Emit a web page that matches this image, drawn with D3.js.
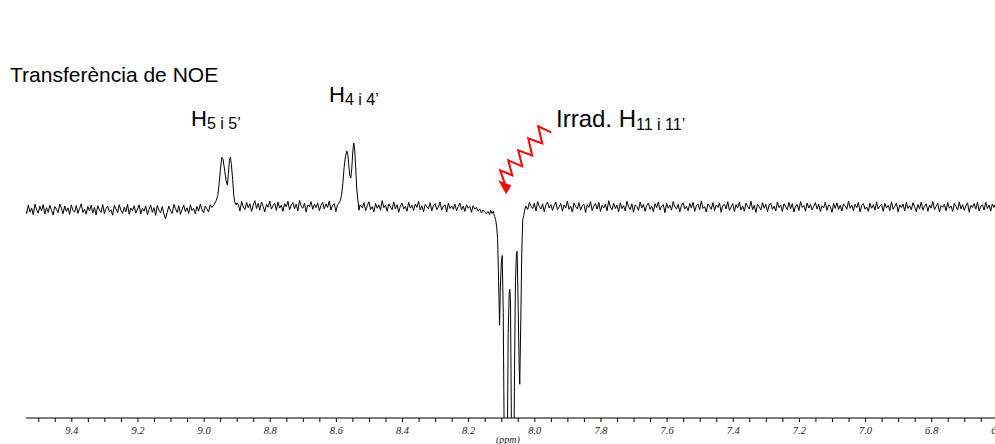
<!DOCTYPE html>
<html>
<head>
<meta charset="utf-8">
<script src="https://cdn.jsdelivr.net/npm/d3@7"></script>
<style>
  body { margin: 0; background: #fff; }
  svg { display: block; }
  .tick text { font-family: 'Liberation Serif', 'DejaVu Serif', serif; font-style: italic; font-size: 10.5px; fill: #222; }
</style>
</head>
<body>
<div id="chart"></div>
<script>
const Width = 995;
const Height = 444;

// spectrum baseline, sampled every 0.005 ppm starting at 9.54 ppm (intensity in % of scale)
const ppmStart = 9.54;
const ppmStep = 0.005;
const baseline = [
  -0.2, -3.1, 0.9, -2.4, -0.5, -3.6, 1.3, -1.2, -2.9, 0.4, -1.8, 1.1, -3.3, -0.3, -2.6, 0.8, -1.5, -3.8, 0.2, -1.0,
  -2.7, 1.4, -0.6, -3.2, 0.5, -2.1, -0.4, -3.5, 1.0, -1.7, -2.4, 0.7, -3.0, -0.8, 1.5, -2.6, -1.1, -3.4, 0.3, -1.9,
  0.9, -2.8, -0.2, -3.7, 0.6, -1.4, -2.5, 1.2, -3.1, -0.7, 0.4, -2.2, -1.3, -3.9, 0.8, -0.9, -2.7, 1.1, -1.6, -3.0,
  -0.1, -2.3, 1.3, -3.4, -0.5, -1.8, 0.6, -2.9, -1.0, 1.0, -3.2, -0.6, -2.0, 0.5, -3.6, -1.2, 0.9, -2.5, -0.3, -4.0,
  0.7, -1.5, -2.8, 0.2, -3.3, -5.5, -2.4, 0.4, -1.9, -3.0, 1.2, -0.8, -2.6, 0.6, -3.5, -1.1, 0.8, -2.2, -0.4, -3.1,
  1.0, -1.7, -0.6, -3.2, 0.3, -2.0, 1.4, -1.3, -2.8, 0.5, -0.9, -2.4, 1.1, -0.2, 0.8, 1.5, 0.4, -0.6, 1.2, 0.3,
  0.5, -1.0, 1.8, 0.2, -0.9, 1.4, -0.3, 2.0, 0.6, 1.1, -1.9, 2.6, 0.0, -1.2, 2.2, -0.4, 1.5, -2.1, 0.9, 3.0,
  -0.7, 1.7, -1.5, 2.4, 0.3, -2.3, 1.2, -0.1, 2.8, -1.0, 0.6, 1.9, -1.6, 2.3, -0.5, 0.8, -2.0, 1.6, 0.1, 2.7,
  -1.3, 0.9, 2.1, -0.8, 1.4, -1.8, 3.1, 0.4, -0.6, 1.8, -2.4, 1.0, 0.2, 2.5, -1.1, 1.3, -0.3, 2.0, -1.7, 0.7,
  2.2, -0.9, 1.5, -0.2, 2.9, -1.4, 0.8, 1.6, -2.2, 1.1, 0.5, 1.0, 2.0, 0.3, -0.8, 1.4, 0.6, -0.5, 1.1, 0.0,
  0.4, -0.9, -2.6, 1.3, -0.4, 2.1, -1.7, 0.6, 2.5, -1.2, 0.2, -2.3, 1.7, -0.6, 1.0, -1.5, 3.0, -0.3, 0.8, -2.0,
  1.5, 0.0, -1.3, 2.4, -0.9, 1.1, -2.5, 0.5, 1.9, -1.0, 0.3, -2.0, 2.2, -0.5, 0.9, -1.6, 1.4, -0.2, 2.6, -1.4,
  0.6, -2.2, 1.2, 0.1, -0.8, 2.0, -1.9, 0.7, 1.6, -1.2, -0.1, 2.3, -1.5, 0.4, 1.0, -2.4, 1.8, -0.7, 0.5, -1.1,
  1.3, -1.8, 0.2, 1.9, -1.3, 0.4, -2.1, 1.1, -0.6, 0.3, -2.5, 0.6, -1.0, -0.2, -2.0, -0.9, -2.8, -1.4, -2.3, -3.2,
  -2.1, -3.6, -2.4, -3.0, -4.2, -2.8, -1.0, -1.5, -0.8, -1.2, -0.5, -1.0, -0.7, -0.3, -0.9, -0.4, -0.6, -0.2, -0.5, -0.1,
  0.1, -0.3, 0.2, 0.8, -1.2, 2.1, 0.4, -0.7, 1.8, -1.9, 2.6, 0.3, -1.0, 1.5, -2.2, 0.9, 2.3, -0.5, 1.2, -1.6,
  0.6, 2.4, -1.3, 0.1, 1.7, -2.0, 1.0, -0.4, 2.8, -1.1, 0.5, -2.4, 1.9, 0.2, -0.9, 2.1, -1.5, 0.7, 1.3, -2.6,
  1.1, -0.2, 2.5, -1.7, 0.4, 1.6, -1.0, 2.2, -2.1, 0.8, -0.5, 1.4, -1.8, 3.0, 0.0, -1.3, 1.8, -0.7, 0.9, -2.3,
  2.0, -0.8, 0.6, -1.9, 2.7, 0.3, -1.2, 1.5, -2.5, 1.0, 0.2, -1.6, 2.3, -0.4, 1.2, -2.0, 0.7, 1.9, -1.1, 0.4,
  -2.2, 1.6, -0.3, 2.4, -1.4, 0.5, 1.1, -2.7, 1.8, -0.6, 0.9, -1.5, 2.6, 0.1, -1.0, 1.3, -2.3, 0.8, 2.0, -0.9,
  0.3, -1.8, 1.7, -0.5, 2.2, -2.1, 0.6, 1.4, -1.3, 2.9, -0.7, 0.2, -2.4, 1.5, 0.4, -1.1, 2.1, -1.7, 1.0, -0.2,
  1.9, -2.5, 0.7, 1.2, -0.9, 2.5, -1.6, 0.0, 1.6, -2.2, 1.1, -0.4, 2.3, -1.4, 0.5, -2.0, 1.8, 0.3, -1.0, 2.7,
  -1.2, 0.8, -2.6, 1.4, 0.2, -1.5, 2.0, -0.6, 1.3, -2.3, 0.9, 1.7, -1.1, 0.4, -1.9, 2.4, -0.3, 1.0, -2.1, 1.5,
  0.1, -1.3, 2.2, -0.8, 1.6, -2.4, 0.5, 1.1, -1.7, 2.6, -0.2, 0.7, -2.0, 1.9, -0.5, 1.2, -1.4, 0.3, 2.1, -1.0,
  1.4, -2.2, 0.6, -0.4, 2.3, -1.6, 1.0, 0.2, -2.5, 1.7, -0.7, 2.0, -1.2, 0.8, -1.9, 1.5, 0.4, -1.1, 2.8, -0.6,
  0.9, -1.8, 1.3, -0.3, 2.1, -2.3, 0.7, 1.6, -1.0, 0.0, -2.1, 1.8, -0.6, 1.1, -1.5, 2.4, -0.9, 0.5, 1.2, -2.0,
  1.7, -0.4, 0.8, -1.7, 2.5, -1.1, 0.3, 1.9, -2.4, 1.0, -0.2, 1.4, -1.9, 2.2, -0.7, 0.6, -1.3, 2.0, 0.1, -2.2,
  1.2, -0.8, 2.3, -1.5, 0.4, 1.5, -2.0, 0.9, -0.5, 2.6, -1.2, 0.2, 1.8, -2.3, 0.7, -0.1, 1.3, -1.8, 2.1, -0.6,
  0.5, -2.1, 1.6, 0.3, -1.4, 2.4, -0.9, 1.1, -1.6, 0.6, 2.0, -2.5, 0.8, -0.3, 1.7, -1.0, 2.2, -1.9, 0.4, 1.0,
  -1.5, 2.3, -0.7, 0.9, -2.0, 1.4, -0.2, 1.8, -1.1
];

// signals [ppm, intensity]
const h5Signal = [
  [8.968, 1.2], [8.962, 3.0], [8.957, 5.5], [8.953, 11], [8.949, 18], [8.945, 23.5],
  [8.941, 22.5], [8.936, 17], [8.932, 12.5], [8.928, 10.4], [8.925, 16], [8.922, 22],
  [8.919, 23.7], [8.916, 20], [8.912, 13], [8.909, 6], [8.906, 2.5], [8.902, 1.0], [8.899, 2.0]
];
const h4Signal = [
  [8.592, 1.5], [8.587, 3.0], [8.583, 5.5], [8.579, 11], [8.575, 19], [8.571, 24],
  [8.567, 26.5], [8.564, 25], [8.561, 20], [8.558, 15], [8.555, 13.7], [8.552, 18],
  [8.549, 26], [8.546, 30.3], [8.543, 27], [8.540, 18], [8.537, 9], [8.534, 4],
  [8.530, -1.5], [8.527, 1.0]
];
const h11Signal = [
  [8.132, -1.5], [8.128, -3.0], [8.124, -2.0], [8.120, -4.5], [8.117, -6.0], [8.114, -9.0],
  [8.111, -15], [8.108, -35], [8.105, -56], [8.103, -40], [8.100, -27], [8.097, -23],
  [8.094, -50], [8.091, -110], [8.088, -160], [8.085, -170], [8.082, -120], [8.079, -60],
  [8.076, -41], [8.074, -39], [8.072, -45], [8.069, -110], [8.066, -160], [8.063, -150],
  [8.060, -80], [8.057, -35], [8.054, -22], [8.052, -21], [8.049, -45], [8.046, -75],
  [8.044, -84], [8.041, -55], [8.038, -22], [8.035, -6], [8.032, -4], [8.029, -1.5], [8.026, 0.5]
];

const tickLabels = [9.4, 9.2, 9.0, 8.8, 8.6, 8.4, 8.2, 8.0, 7.8, 7.6, 7.4, 7.2, 7.0, 6.8, 6.6];

const svg = d3.select('#chart').
append('svg').
attr('width', Width).
attr('height', Height);

const x = d3.scaleLinear().
domain([9.537, 6.607]).
range([26, 995]);

const y = d3.scaleLinear().
domain([-100, 100]).
range([418, -4]);

// merge baseline with the signals (signals replace baseline where they lie)
const signals = [h5Signal, h4Signal, h11Signal];
const ranges = signals.map(s => [d3.min(s, d => d[0]) - 0.002, d3.max(s, d => d[0]) + 0.002]);
let trace = baseline.
map((v, i) => [ppmStart - i * ppmStep, v]).
filter(p => !ranges.some(r => p[0] >= r[0] && p[0] <= r[1]));
signals.forEach(s => {trace = trace.concat(s);});
trace.sort((a, b) => b[0] - a[0]);

svg.append('clipPath').
attr('id', 'plotClip').
append('rect').
attr('x', 26).
attr('y', 0).
attr('width', 969).
attr('height', 418);

svg.append('path').
datum(trace).
attr('clip-path', 'url(#plotClip)').
attr('fill', 'none').
attr('stroke', '#000').
attr('stroke-width', 1).
attr('d', d3.line().x(d => x(d[0])).y(d => y(d[1])));

// axis: minor ticks every 0.05, labels every 0.2
const minorTicks = d3.range(0, 60).map(i => +(9.5 - i * 0.05).toFixed(2)).filter(v => v >= 6.61);
const axisG = svg.append('g').
attr('transform', 'translate(0,418)');

axisG.append('g').
call(d3.axisBottom(x).tickValues(minorTicks).tickSize(4).tickSizeOuter(0).tickFormat('')).
call(g => g.select('.domain').remove()).
call(g => g.selectAll('line').attr('stroke', '#000'));

axisG.append('g').
call(d3.axisBottom(x).tickValues(tickLabels).tickSize(0).tickPadding(9).tickSizeOuter(0).tickFormat(d3.format('.1f'))).
call(g => g.select('.domain').remove());

axisG.append('line').
attr('x1', 26).
attr('x2', 995).
attr('stroke', '#000').
attr('stroke-width', 1);

svg.append('text').
attr('x', x(8.08)).
attr('y', 443).
attr('text-anchor', 'middle').
style('font-family', "'Liberation Serif', serif").
style('font-style', 'italic').
style('font-size', '10px').
attr('fill', '#222').
text('(ppm)');

// title and peak labels
const sans = "'Liberation Sans', Arial, sans-serif";
svg.append('text').
attr('x', 10).
attr('y', 82).
style('font-family', sans).
style('font-size', '21px').
text('Transferència de NOE');

function label(px, py, main, sub, size) {
  const t = svg.append('text').
  attr('x', px).
  attr('y', py).
  style('font-family', sans).
  style('font-size', size + 'px');
  t.append('tspan').text(main);
  t.append('tspan').
  attr('dy', 3).
  style('font-size', '16px').
  text(sub);
}
label(191, 126, 'H', '5 i 5’', 22);
label(329, 102, 'H', '4 i 4’', 22);
label(556, 127, 'Irrad. H', '11 i 11’', 24);

// red wavy arrow pointing at the irradiated signal
const tipX = x(8.085);
const tipY = y(6);
const zig = [[45, -62], [32, -68], [36, -51], [22, -56], [26, -39], [12, -44], [16, -28],
  [2, -34], [6, -19], [-6, -24], [-1.5, -11]];
svg.append('path').
attr('d', d3.line()(zig.map(p => [tipX + p[0], tipY + p[1]]))).
attr('fill', 'none').
attr('stroke', '#f00').
attr('stroke-width', 2);
svg.append('path').
attr('d', d3.line()([[-8, -14], [5, -9], [0, 0]].map(p => [tipX + p[0], tipY + p[1]])) + 'Z').
attr('fill', '#f00');
</script>
</body>
</html>
